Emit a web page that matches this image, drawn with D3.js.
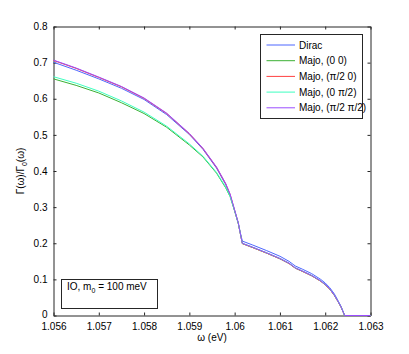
<!DOCTYPE html>
<html><head><meta charset="utf-8">
<script src="https://cdn.jsdelivr.net/npm/d3@7"></script>
<style>
body{margin:0;background:#fff;}
text{font-family:"Liberation Sans",Arial,Helvetica,sans-serif;}
</style></head>
<body><svg id="c" width="409" height="354"></svg>
<script>
const omega = [1.0560,1.0565,1.0570,1.0575,1.0580,1.0585,1.0590,1.0593,1.0596,1.0598,1.0599,1.0600,1.06008,1.06012,1.06017,1.0604,1.0607,1.0610,1.0612,1.06134,1.0615,1.0617,1.0619,1.0620,1.0621,1.0622,1.06228,1.06235,1.06243,1.0630];
const dirac     = [0.701,0.679,0.655,0.629,0.598,0.556,0.501,0.460,0.408,0.363,0.333,0.290,0.255,0.232,0.206,0.195,0.180,0.164,0.150,0.137,0.128,0.116,0.100,0.090,0.077,0.060,0.042,0.025,0,0];
const majo00    = [0.655,0.637,0.616,0.589,0.559,0.521,0.472,0.439,0.394,0.354,0.329,0.289,0.255,0.230,0.199,0.188,0.173,0.157,0.144,0.131,0.122,0.110,0.095,0.085,0.073,0.056,0.039,0.023,0,0];
const majoPi0   = [0.706,0.684,0.659,0.633,0.601,0.559,0.503,0.462,0.410,0.365,0.335,0.291,0.256,0.230,0.199,0.188,0.173,0.157,0.144,0.131,0.122,0.110,0.095,0.085,0.073,0.056,0.039,0.023,0,0];
const majo0Pi   = [0.661,0.643,0.621,0.594,0.563,0.524,0.475,0.441,0.396,0.356,0.330,0.290,0.256,0.231,0.200,0.189,0.174,0.158,0.145,0.132,0.123,0.111,0.096,0.086,0.074,0.057,0.040,0.024,0,0];
const majoPiPi  = [0.707,0.685,0.660,0.634,0.602,0.560,0.504,0.463,0.411,0.366,0.336,0.292,0.257,0.231,0.200,0.189,0.174,0.158,0.145,0.132,0.123,0.111,0.096,0.086,0.074,0.057,0.040,0.024,0,0];
const seriesNames = ["Dirac","Majo, (0 0)","Majo, (\u03C0/2 0)","Majo, (0 \u03C0/2)","Majo, (\u03C0/2 \u03C0/2)"];
const seriesColors = ["#4d66ff","#3cb034","#ff4040","#3dffc0","#9a4dff"];
const seriesValues = [dirac, majo00, majoPi0, majo0Pi, majoPiPi];
const xTicks = [1.056,1.057,1.058,1.059,1.060,1.061,1.062,1.063];
const xTickLabels = ["1.056","1.057","1.058","1.059","1.06","1.061","1.062","1.063"];
const yTicks = [0,0.1,0.2,0.3,0.4,0.5,0.6,0.7,0.8];
const yTickLabels = ["0","0.1","0.2","0.3","0.4","0.5","0.6","0.7","0.8"];

const svg = d3.select("#c");
const L=53.5, R=370.5, T=26.5, B=315.5;
const x = d3.scaleLinear().domain([1.056,1.063]).range([L,R]);
const y = d3.scaleLinear().domain([0,0.8]).range([B,T]);
const axCol = "#262626";
const fs = "10px";

// axes
const xb = svg.append("g").attr("transform",`translate(0,${B})`)
  .call(d3.axisBottom(x).tickValues(xTicks).tickFormat((d,i)=>xTickLabels[i]).tickSizeInner(-3).tickSizeOuter(0).tickPadding(7));
const xt = svg.append("g").attr("transform",`translate(0,${T})`)
  .call(d3.axisTop(x).tickValues(xTicks).tickFormat("").tickSizeInner(-3).tickSizeOuter(0));
const yl = svg.append("g").attr("transform",`translate(${L},0)`)
  .call(d3.axisLeft(y).tickValues(yTicks).tickFormat((d,i)=>yTickLabels[i]).tickSizeInner(-3).tickSizeOuter(0).tickPadding(6));
const yr = svg.append("g").attr("transform",`translate(${R},0)`)
  .call(d3.axisRight(y).tickValues(yTicks).tickFormat("").tickSizeInner(-3).tickSizeOuter(0));
[xb,xt,yl,yr].forEach(a=>{
  a.selectAll("path").attr("stroke",axCol);
  a.selectAll("line").attr("stroke",axCol);
  a.selectAll("text").attr("fill","#000").style("font-size",fs).style("font-family","Liberation Sans, Arial, sans-serif");
});
yl.selectAll(".tick text").filter(d=>d===0).attr("dy","0.2em");

// lines on top of axes
const line = d3.line().x(d=>x(d[0])).y(d=>y(d[1]));
const g = svg.append("g");
seriesValues.forEach((vals,i)=>{
  g.append("path").datum(omega.map((o,k)=>[o,vals[k]]))
    .attr("d",line).attr("fill","none").attr("stroke",seriesColors[i]).attr("stroke-width",1);
});

// axis labels
svg.append("text").attr("x",(L+R)/2).attr("y",341).attr("text-anchor","middle").style("font-size",fs).text("\u03C9 (eV)");
const yt = svg.append("text").attr("transform",`translate(24,${(T+B)/2}) rotate(-90)`).attr("text-anchor","middle").style("font-size",fs);
yt.append("tspan").text("\u0393(\u03C9)/\u0393");
yt.append("tspan").attr("dy",3).style("font-size","7px").text("0");
yt.append("tspan").attr("dy",-3).text("(\u03C9)");

// legend
const lg = svg.append("g");
lg.append("rect").attr("x",260.5).attr("y",34.5).attr("width",102).attr("height",84).attr("fill","#fff").attr("stroke",axCol);
seriesNames.forEach((n,i)=>{
  const yy = 45 + i*15.7;
  lg.append("line").attr("x1",266.5).attr("x2",295).attr("y1",yy).attr("y2",yy).attr("stroke",seriesColors[i]).attr("stroke-width",1);
  lg.append("text").attr("x",299).attr("y",yy+3.5).style("font-size",fs).text(n);
});

// annotation box
const ab = svg.append("g");
ab.append("rect").attr("x",61.5).attr("y",279.5).attr("width",96).attr("height",29).attr("fill","#fff").attr("stroke",axCol);
const at = ab.append("text").attr("x",67).attr("y",290).style("font-size",fs);
at.append("tspan").text("IO, m");
at.append("tspan").attr("dy",3).style("font-size","7px").text("0");
at.append("tspan").attr("dy",-3).text(" = 100 meV");
</script></body></html>
